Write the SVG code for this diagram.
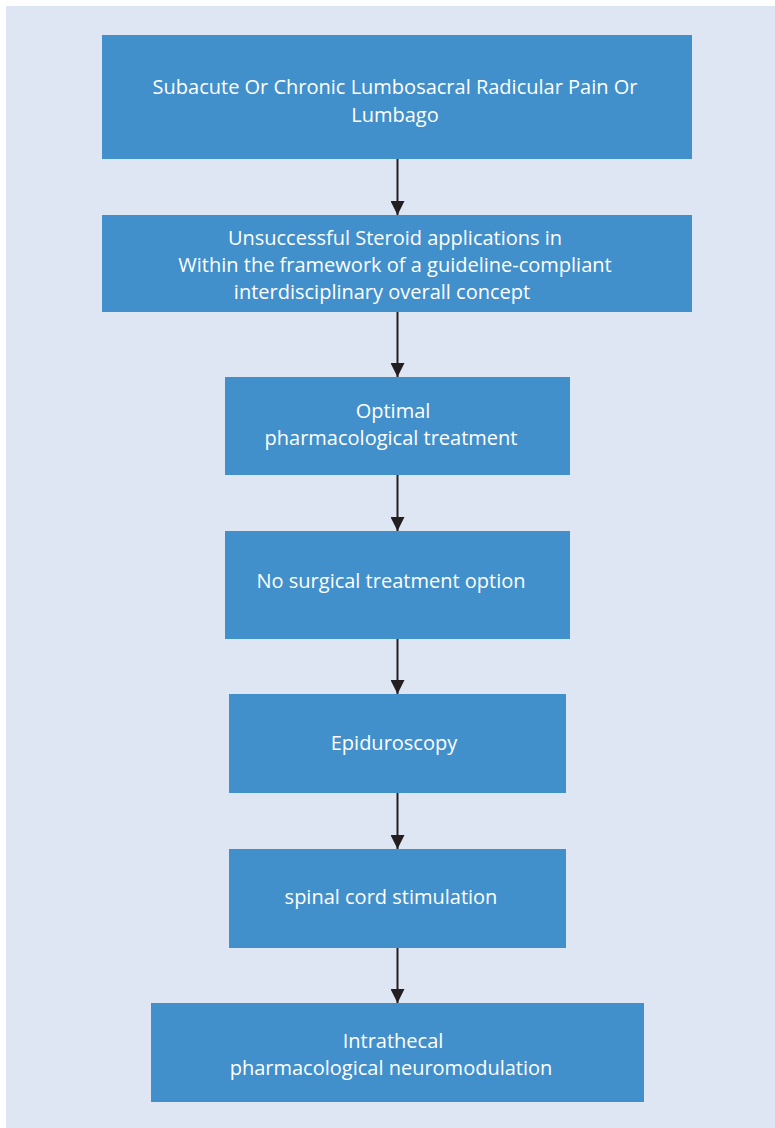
<svg xmlns="http://www.w3.org/2000/svg" width="775" height="1128" viewBox="0 0 775 1128">
  <defs>
    <marker id="arrowhead" viewBox="0 0 14 14" refX="14" refY="7" markerWidth="14" markerHeight="14" markerUnits="userSpaceOnUse" orient="auto">
      <path d="M0,0 L14,7 L0,14 Z" fill="#231f20"/>
    </marker>
  </defs>
  <style>
    .box { fill: #4190cb; }
    .label { fill: #ffffff; font-family: "Open Sans", "Noto Sans", sans-serif; font-size: 20px; text-anchor: middle; }
    .link { stroke: #231f20; stroke-width: 2; fill: none; marker-end: url(#arrowhead); }
  </style>

  <!-- page background -->
  <rect x="6" y="6" width="769" height="1122" fill="#dfe6f3"/>

  <g id="connectors">
    <line class="link" x1="397.5" y1="159" x2="397.5" y2="215"/>
    <line class="link" x1="397.5" y1="312" x2="397.5" y2="377"/>
    <line class="link" x1="397.5" y1="475" x2="397.5" y2="531"/>
    <line class="link" x1="397.5" y1="639" x2="397.5" y2="694"/>
    <line class="link" x1="397.5" y1="793" x2="397.5" y2="849"/>
    <line class="link" x1="397.5" y1="948" x2="397.5" y2="1003"/>
  </g>

  <g id="node-pain">
    <rect class="box" x="102" y="35" width="590" height="124"/>
    <text class="label" x="395" y="94">Subacute Or Chronic Lumbosacral Radicular Pain Or</text>
    <text class="label" x="395" y="122">Lumbago</text>
  </g>

  <g id="node-steroid">
    <rect class="box" x="102" y="215" width="590" height="97"/>
    <text class="label" x="395" y="245">Unsuccessful Steroid applications in</text>
    <text class="label" x="395" y="272">Within the framework of a guideline-compliant</text>
    <text class="label" x="382" y="299">interdisciplinary overall concept</text>
  </g>

  <g id="node-pharmacological">
    <rect class="box" x="225" y="377" width="345" height="98"/>
    <text class="label" x="393" y="418">Optimal</text>
    <text class="label" x="391" y="445">pharmacological treatment</text>
  </g>

  <g id="node-surgical">
    <rect class="box" x="225" y="531" width="345" height="108"/>
    <text class="label" x="391" y="588">No surgical treatment option</text>
  </g>

  <g id="node-epiduroscopy">
    <rect class="box" x="229" y="694" width="337" height="99"/>
    <text class="label" x="394" y="750">Epiduroscopy</text>
  </g>

  <g id="node-scs">
    <rect class="box" x="229" y="849" width="337" height="99"/>
    <text class="label" x="391" y="904">spinal cord stimulation</text>
  </g>

  <g id="node-intrathecal">
    <rect class="box" x="151" y="1003" width="493" height="99"/>
    <text class="label" x="393" y="1048">Intrathecal</text>
    <text class="label" x="391" y="1075">pharmacological neuromodulation</text>
  </g>
</svg>
